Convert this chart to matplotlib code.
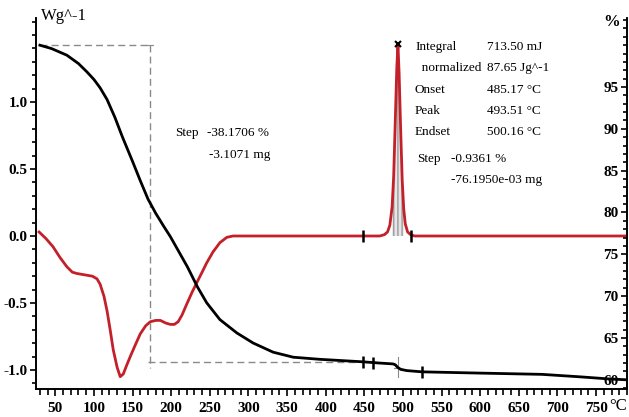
import matplotlib
matplotlib.use('Agg')
import matplotlib.pyplot as plt
import numpy as np
from matplotlib.ticker import MultipleLocator, FixedLocator

plt.rcParams['font.family'] = ['Liberation Serif', 'DejaVu Serif']

# DSC curve (W/g) vs temperature (C)
dsc_t = [29, 38, 47, 56, 65, 72, 78, 88, 98, 104, 108, 113, 117, 121, 125, 130, 134, 138,
         142, 147, 153, 160, 167, 173, 180, 186, 193, 199, 204, 209, 214, 220, 227, 233,
         240, 246, 254, 263, 272, 280, 290, 350, 420, 470, 476, 480, 483, 486, 488, 490,
         492, 493.5, 495, 497, 499, 501, 503, 506, 510, 515, 600, 700, 790]
dsc_w = [0.03, -0.02, -0.08, -0.16, -0.23, -0.27, -0.28, -0.29, -0.30, -0.32, -0.36, -0.45,
         -0.56, -0.70, -0.85, -0.98, -1.05, -1.03, -0.97, -0.90, -0.82, -0.73, -0.67, -0.64,
         -0.63, -0.63, -0.65, -0.66, -0.66, -0.64, -0.59, -0.51, -0.42, -0.35, -0.27, -0.20,
         -0.12, -0.05, -0.01, 0.0, 0.0, 0.0, 0.0, 0.0, 0.01, 0.03, 0.08, 0.22, 0.45, 0.85,
         1.25, 1.43, 1.22, 0.80, 0.42, 0.20, 0.09, 0.03, 0.01, 0.0, 0.0, 0.0, 0.0]

# TGA curve (%) vs temperature (C)
tga_t = [30, 45, 65, 80, 91, 100, 108, 117, 127, 137, 150, 160, 170, 180, 190, 199, 210,
         221, 234, 246, 263, 285, 306, 332, 358, 392, 448, 470, 487, 490, 493, 497, 505,
         525, 600, 680, 705, 730, 767, 790]
tga_p = [100.0, 99.6, 98.8, 97.8, 96.8, 95.9, 94.9, 93.5, 91.4, 89.0, 86.1, 83.8, 81.6,
         79.9, 78.4, 77.1, 75.3, 73.5, 71.1, 69.2, 67.2, 65.6, 64.4, 63.3, 62.7, 62.45,
         62.15, 62.0, 61.9, 61.8, 61.5, 61.25, 61.1, 60.95, 60.8, 60.65, 60.5, 60.35,
         60.1, 60.0]

x_ticks = [50, 100, 150, 200, 250, 300, 350, 400, 450, 500, 550, 600, 650, 700, 750]
left_ticks = [-1.0, -0.5, 0.0, 0.5, 1.0]
right_ticks = [60, 65, 70, 75, 80, 85, 90, 95]

fig = plt.figure(figsize=(6.29, 4.17), dpi=100)
ax = fig.add_axes([36 / 629, 1 - 389 / 417, 591 / 629, 371 / 417])
ax2 = ax.twinx()

red = '#c4202a'
ax.plot(dsc_t, dsc_w, color=red, lw=2.0, zorder=3)
# shaded integration area under the peak
t_fill = np.array(dsc_t)
w_fill = np.array(dsc_w)
m = (t_fill >= 484) & (t_fill <= 501)
ax.fill_between(t_fill[m], 0, w_fill[m], facecolor='#e6e6e6', edgecolor='#9a9a9a',
                hatch='||||', lw=0, zorder=2)
ax.plot([448, 511], [0, 0], ls='none', marker='|', ms=9, mew=1.8, color='black', zorder=4)
ax.plot([493.5], [1.43], ls='none', marker='x', ms=4, mew=1.5, color='black', zorder=4)

ax.set_xlim(25, 790)
ax.set_ylim(-1.142, 1.627)
ax2.set_ylim(58.9, 103.25)

ax2.plot(tga_t, tga_p, color='black', lw=2.0, zorder=3)
ax2.plot([448, 461, 525], [62.15, 62.05, 60.95], ls='none', marker='|', ms=9, mew=1.8,
         color='black', zorder=4)

# step evaluation guide lines
gray = '#8a8a8a'
ax2.plot([30, 172], [100, 100], ls=(0, (5, 3)), color=gray, lw=1.0)
ax2.plot([172, 172], [100, 61.4], ls=(0, (5, 3)), color=gray, lw=1.0)
ax2.plot([170, 440], [61.83 + 0.3, 61.83 + 0.3], ls=(0, (5, 3)), color=gray, lw=1.0)
ax2.plot([493, 493], [60.3, 62.7], color=gray, lw=0.8)
ax2.plot([489, 497], [61.4, 61.4], color=gray, lw=0.8)
ax2.plot([168, 176], [100, 100], color=gray, lw=0.8)

# axes styling
for a in (ax, ax2):
    a.spines['top'].set_visible(False)
ax.xaxis.set_major_locator(FixedLocator(x_ticks))
ax.xaxis.set_minor_locator(MultipleLocator(10))
ax.yaxis.set_major_locator(FixedLocator(left_ticks))
ax.yaxis.set_minor_locator(MultipleLocator(0.1))
ax2.yaxis.set_major_locator(FixedLocator(right_ticks))
ax2.yaxis.set_minor_locator(MultipleLocator(1))
ax.tick_params(axis='x', which='major', direction='out', length=5, width=1.2, pad=4, labelsize=11)
ax.tick_params(axis='x', which='minor', direction='out', length=4, width=1.2)
ax.tick_params(axis='y', which='major', direction='out', length=4, width=1.2, pad=2, labelsize=11)
ax.tick_params(axis='y', which='minor', direction='out', length=3, width=1.2)
ax2.tick_params(axis='y', which='major', direction='in', length=4, width=1.2, pad=-6, labelsize=11)
ax2.tick_params(axis='y', which='minor', direction='in', length=3, width=1.2)
ax.set_yticklabels(['%.1f' % v for v in left_ticks])
ax2.set_yticklabels([str(v) for v in right_ticks])
for lbl in ax.get_xticklabels() + ax.get_yticklabels():
    lbl.set_fontweight('bold')
for lbl in ax2.get_yticklabels():
    lbl.set_fontweight('bold')
    lbl.set_horizontalalignment('right')
for s in ('left', 'bottom', 'right'):
    ax.spines[s].set_linewidth(1.2)
    ax2.spines[s].set_linewidth(1.2)

# unit labels
fig.text(41 / 629, 1 - 16 / 417, 'Wg^-1', fontsize=12, va='center', ha='left')
fig.text(603 / 629, 1 - 22 / 417, '%', fontsize=12, va='center', ha='left', fontweight='bold')
fig.text(609 / 629, 1 - 406 / 417, '°C', fontsize=12, va='center', ha='left')

# annotations
fs = 9.5
fig.text(175 / 629, 1 - 133 / 417, 'Step', fontsize=fs, va='center')
fig.text(207 / 629, 1 - 133 / 417, '-38.1706 %', fontsize=fs, va='center')
fig.text(209 / 629, 1 - 155 / 417, '-3.1071 mg', fontsize=fs, va='center')

rows = [('Integral', '713.50 mJ', 47), ('  normalized', '87.65 Jg^-1', 68),
        ('Onset', '485.17 °C', 90), ('Peak', '493.51 °C', 111), ('Endset', '500.16 °C', 132)]
for name, val, yy in rows:
    fig.text(415 / 629, 1 - yy / 417, name, fontsize=fs, va='center')
    fig.text(487 / 629, 1 - yy / 417, val, fontsize=fs, va='center')
fig.text(417 / 629, 1 - 159 / 417, 'Step', fontsize=fs, va='center')
fig.text(451 / 629, 1 - 159 / 417, '-0.9361 %', fontsize=fs, va='center')
fig.text(451 / 629, 1 - 180 / 417, '-76.1950e-03 mg', fontsize=fs, va='center')

fig.savefig('out.png', dpi=100)
